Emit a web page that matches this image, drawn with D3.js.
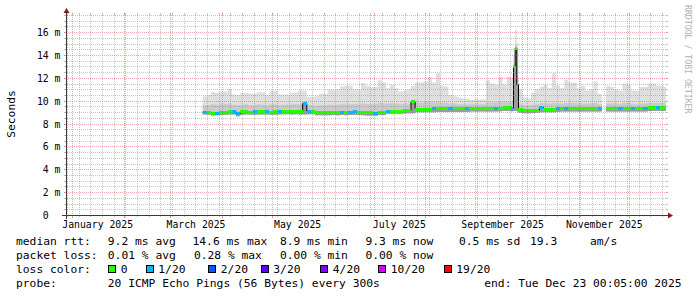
<!DOCTYPE html>
<html><head><meta charset="utf-8">
<script src="https://cdn.jsdelivr.net/npm/d3@7"></script>
<style>
html,body{margin:0;padding:0;background:#fff;}
svg{display:block;}
text{font-family:"DejaVu Sans Mono",monospace;white-space:pre;}
</style></head><body>
<svg id="c" width="697" height="297"></svg>
<script>
// ---- time frame ----
const graphStart = Date.UTC(2024, 11, 28, 0, 5);
const graphEnd   = Date.UTC(2025, 11, 23, 0, 5);
const dataStart  = Date.UTC(2025, 2, 20, 0, 0);

// day offsets (from dataStart) of each sample bin
const binDays = [0,2.5,5,7.5,10,12.5,15,17.5,20,22.5,25,27.5,30,32.5,35,37.5,40,42.5,45,47.5,
  50,52.5,55,57.5,60,62.5,65,67.5,70,72.5,75,77.5,80,82.5,85,87.5,90,92.5,95,97.5,
  100,102.5,105,107.5,110,112.5,115,117.5,120,122.5,125,127.5,130,132.5,135,137.5,140,142.5,145,147.5,
  150,152.5,155,157.5,160,162.5,165,167.5,170,172.5,175,177.5,180,182.5,185,
  186.5,187.5,188.5,
  189.5,192,194.5,197,199.5,202,204.5,207,209.5,212,214.5,217,219.5,222,224.5,227,229.5,232,234.5,237,
  239.5,242,244.5,247,249.5,252,254.5,257,259.5,262,264.5,267,269.5,272,274.5,277];

// median rtt (ms)
const median = [9.00,8.98,8.88,8.90,8.95,9.00,9.05,9.05,8.85,9.02,
  9.05,9.00,9.02,9.05,9.05,9.05,9.00,9.02,9.05,9.08,
  9.08,9.05,9.08,9.05,9.75,9.10,9.10,8.95,8.95,8.95,
  8.97,8.97,8.95,8.97,8.95,9.00,9.03,9.00,8.98,8.94,
  8.94,8.92,9.00,9.00,9.10,9.08,9.08,9.08,9.12,9.14,
  9.90,9.25,9.26,9.26,9.26,9.28,9.28,9.30,9.30,9.30,
  9.30,9.30,9.30,9.30,9.32,9.32,9.32,9.32,9.32,9.32,
  9.33,9.36,9.38,9.38,9.36,13.0,14.6,11.4,9.20,9.12,
  9.12,9.15,9.18,9.40,9.25,9.25,9.25,9.28,9.30,9.30,
  9.32,9.32,9.32,9.32,9.32,9.32,9.32,9.32,null,9.30,
  9.30,9.30,9.30,9.30,9.30,9.30,9.30,9.30,9.32,9.38,
  9.38,9.38,9.38,9.38];

// loss class per bin (index into lossColors)
const lossIdx = [1,0,0,1,0,0,0,1,1,0,
  0,0,1,0,0,1,0,0,1,0,
  0,0,0,0,1,1,0,0,0,0,
  0,0,0,1,0,1,1,0,0,0,
  0,1,0,0,1,0,0,0,0,0,
  0,0,0,0,0,1,0,0,0,1,
  0,0,0,1,0,0,0,0,0,0,
  1,0,0,0,1,0,0,0,0,0,
  0,0,0,1,0,0,0,1,0,1,
  0,0,0,0,0,0,0,1,null,0,
  0,0,1,0,0,1,0,0,1,0,
  0,1,0,0];

// smoke: highest ping (ms)
const smokeHi = [10.4,10.5,10.75,10.7,10.8,10.8,11.0,10.55,10.5,10.7,
  10.7,10.6,10.6,10.75,10.75,10.5,10.9,10.9,10.55,10.55,
  10.55,10.7,10.75,10.9,10.9,10.35,10.35,10.4,10.6,10.6,
  11.0,10.95,11.0,11.25,11.3,11.3,11.0,11.0,11.55,11.3,
  11.2,11.2,11.8,11.6,11.1,11.4,11.1,10.8,10.9,11.0,
  11.3,11.6,11.6,11.7,12.1,11.6,12.4,11.3,11.25,10.5,
  10.4,10.3,10.2,10.2,10.1,10.1,10.1,10.1,11.8,11.5,
  11.4,12.1,11.4,12.1,12.0,14.0,16.2,15.0,11.0,10.3,
  10.2,10.7,11.0,11.2,11.4,11.1,12.4,11.3,11.1,11.85,
  11.6,11.6,11.1,11.3,10.9,11.0,11.7,10.6,null,11.3,
  11.2,11.0,10.9,11.5,11.4,10.9,10.9,11.2,11.2,11.5,
  11.5,11.3,11.3,11.2];

// smoke: upper edge of the denser inner band (ms)
const smokeMid = [9.6,9.6,9.7,9.65,9.7,9.7,9.75,9.65,9.6,9.65,
  9.7,9.6,9.6,9.7,9.65,9.6,9.7,9.7,9.6,9.65,
  9.65,9.7,9.7,9.7,9.9,9.6,9.6,9.55,9.6,9.6,
  9.65,9.65,9.65,9.7,9.7,9.7,9.7,9.7,9.75,9.7,
  9.7,9.7,9.8,9.75,9.75,9.75,9.75,9.7,9.75,9.75,
  10.1,9.85,9.85,9.9,9.9,9.85,9.9,9.85,9.85,9.75,
  9.75,9.7,9.7,9.7,9.7,9.7,9.7,9.7,9.85,9.85,
  9.85,9.9,9.9,9.9,9.9,13.2,14.9,12.0,9.7,9.6,
  9.6,9.65,9.7,9.8,9.75,9.75,9.8,9.75,9.75,9.8,
  9.8,9.8,9.75,9.75,9.75,9.75,9.8,9.7,null,9.75,
  9.75,9.75,9.7,9.8,9.8,9.7,9.7,9.75,9.75,9.8,
  9.8,9.8,9.8,9.8];

// smoke: lowest ping (ms)
const smokeLo = [8.80,8.78,8.70,8.72,8.75,8.78,8.80,8.80,8.65,8.78,
  8.80,8.78,8.78,8.80,8.80,8.80,8.78,8.78,8.80,8.82,
  8.82,8.80,8.82,8.80,8.80,8.82,8.82,8.72,8.72,8.72,
  8.72,8.75,8.72,8.75,8.72,8.75,8.78,8.75,8.72,8.70,
  8.70,8.68,8.75,8.75,8.85,8.85,8.85,8.85,8.88,8.90,
  8.90,8.98,9.00,9.00,9.00,9.00,9.02,9.02,9.02,9.02,
  9.02,9.02,9.02,9.02,9.05,9.05,9.05,9.05,9.05,9.05,
  9.05,9.08,9.10,9.10,9.08,9.10,9.10,9.05,8.95,8.90,
  8.90,8.92,8.95,9.00,9.00,9.00,9.00,9.02,9.05,9.05,
  9.05,9.05,9.05,9.05,9.05,9.05,9.05,9.05,null,9.05,
  9.05,9.05,9.05,9.05,9.05,9.05,9.05,9.05,9.05,9.10,
  9.10,9.10,9.10,9.10];

// axis ticks / legend
const yMax = 17.5;
const yTickValues = [0,2,4,6,8,10,12,14,16];
const yTickLabels = ["0  ","2 m","4 m","6 m","8 m","10 m","12 m","14 m","16 m"];
const xLabelMonths = [Date.UTC(2025,0,1),Date.UTC(2025,2,1),Date.UTC(2025,4,1),Date.UTC(2025,6,1),Date.UTC(2025,8,1),Date.UTC(2025,10,1)];
const xLabelTexts = ["January 2025","March 2025","May 2025","July 2025","September 2025","November 2025"];
const lossColors = ["#26ff00","#00b8ff","#0059ff","#5e00ff","#7e00ff","#dd00ff","#ff0000"];
const lossLabels = ["0","1/20","2/20","3/20","4/20","10/20","19/20"];
const lossBoxX = [108,145.5,208,260.5,320,378,443.5];
const statRtt = [["median rtt:",16],["9.2 ms avg",107.8],["14.6 ms max",192.5],["8.9 ms min",279.9],["9.3 ms now",365.4],["0.5 ms sd",459],["19.3",530],["am/s",590]];
const statLoss = [["packet loss:",16],["0.01 % avg",107.8],["0.28 % max",193.9],["0.00 % min",279.9],["0.00 % now",365.4]];
const probeText = [["probe:",16],["20 ICMP Echo Pings (56 Bytes) every 300s",107.8]];
const endText = "end: Tue Dec 23 00:05:00 2025";

// ---- drawing ----
const svg = d3.select("#c");
const X0 = 66, X1 = 666, Y0 = 215, Y1 = 15;
const x = d3.scaleUtc().domain([graphStart, graphEnd]).range([X0, X1]);
const y = d3.scaleLinear().domain([0, yMax]).range([Y0, Y1]);
const DAY = 864e5;

const bins = binDays.map((d, i) => ({
  t0: dataStart + d * DAY,
  t1: i < binDays.length - 1 ? dataStart + binDays[i + 1] * DAY : graphEnd,
  med: median[i], loss: lossIdx[i], hi: smokeHi[i], mid: smokeMid[i], lo: smokeLo[i]
}));

function stepPts(fn) {
  const pts = [];
  bins.forEach(b => {
    if (b.med == null) { pts.push(null); return; }
    const v = fn(b);
    pts.push({ t: b.t0, ...v }, { t: Math.min(b.t1, graphEnd), ...v });
  });
  return pts;
}

const gData = svg.append("g");
function smokeArea(lowKey, highKey, color) {
  const pts = stepPts(b => ({ a: b[lowKey], b: b[highKey] }));
  const area = d3.area().defined(p => p !== null)
    .x(p => x(p.t)).y0(p => y(p.a)).y1(p => y(p.b));
  gData.append("path").attr("d", area(pts)).attr("fill", color);
}
smokeArea("lo", "hi", "#dfdfdf");
smokeArea("lo", "mid", "#cacaca");
smokeArea("lo", "med", "#9c9c9c");

// median thin line
const medPts = stepPts(b => ({ v: b.med }));
const line = d3.line().defined(p => p !== null).x(p => x(p.t)).y(p => y(p.v));
gData.append("path").attr("d", line(medPts)).attr("fill", "none")
  .attr("stroke", "#000").attr("stroke-width", 1);

// loss-coloured median band
gData.selectAll("rect.med").data(bins.filter(b => b.med != null)).join("rect")
  .attr("class", "med")
  .attr("x", b => x(b.t0))
  .attr("width", b => x(Math.min(b.t1, graphEnd)) - x(b.t0))
  .attr("y", b => y(b.med) - 1.5)
  .attr("height", 3)
  .attr("fill", b => lossColors[b.loss])
  .attr("shape-rendering", "crispEdges");

// ---- grid (on top, translucent) ----
const gGrid = svg.append("g").attr("shape-rendering", "crispEdges");
const minorCol = "rgba(140,140,140,0.5)";
const majorCol = "rgba(222,80,80,0.5)";
const ry = v => Math.round(y(v)) + 0.5;
const rx = t => Math.floor(x(t)) + 0.5;

function hline(x1, x2, yy, col, dash) {
  const l = gGrid.append("line").attr("x1", x1).attr("x2", x2).attr("y1", yy).attr("y2", yy)
    .attr("stroke", col).attr("stroke-width", 1);
  if (dash) l.attr("stroke-dasharray", "1,1");
}
function vline(xx, y1, y2, col, dash) {
  const l = gGrid.append("line").attr("x1", xx).attr("x2", xx).attr("y1", y1).attr("y2", y2)
    .attr("stroke", col).attr("stroke-width", 1);
  if (dash) l.attr("stroke-dasharray", "1,1");
}

// horizontal minor grid every 0.5
d3.range(1, 36).map(k => k * 0.5).forEach(v => {
  if (v % 2 === 0) return;
  const yy = ry(v);
  hline(X0 - 2, X0, yy, minorCol, false);
  hline(X1, X1 + 2, yy, minorCol, false);
  hline(X0 - 1, X1 + 1, yy, minorCol, true);
});
yTickValues.filter(v => v > 0).forEach(v => {
  const yy = ry(v);
  hline(X0 - 2, X0, yy, majorCol, false);
  hline(X1, X1 + 2, yy, majorCol, false);
  hline(X0 - 2, X1 + 2, yy, majorCol, true);
});
// vertical grid: weeks (minor), months (major)
const months = d3.utcMonth.range(graphStart, graphEnd);
const monthSet = new Set(months.map(d => +d));
d3.utcSunday.range(graphStart, graphEnd).forEach(d => {
  if (monthSet.has(+d)) return;
  const xx = rx(d);
  vline(xx, Y1 - 2, Y1, minorCol, false);
  vline(xx, Y0, Y0 + 2, minorCol, false);
  vline(xx, Y0 + 1, Y1 - 1, minorCol, true);
});
months.forEach(d => {
  const xx = rx(d);
  vline(xx, Y1 - 2, Y1, majorCol, false);
  vline(xx, Y0, Y0 + 3, majorCol, false);
  vline(xx, Y0 + 3, Y1 - 2, majorCol, true);
});

// ---- axes ----
const axisCol = "#3a3a3a", arrowCol = "#7f1f1f";
gGrid.append("line").attr("x1", X0 - 4).attr("x2", X1 + 4).attr("y1", Y0 + 0.5).attr("y2", Y0 + 0.5)
  .attr("stroke", axisCol).attr("stroke-width", 1);
gGrid.append("line").attr("x1", X0 + 0.5).attr("x2", X0 + 0.5).attr("y1", Y0 + 4).attr("y2", Y1 - 4)
  .attr("stroke", axisCol).attr("stroke-width", 1);
svg.append("path").attr("d", `M${X1 + 2},${Y0 + 0.5 - 3}L${X1 + 2},${Y0 + 0.5 + 3}L${X1 + 7},${Y0 + 0.5}Z`).attr("fill", arrowCol);
svg.append("path").attr("d", `M${X0 + 0.5 - 3},${Y1 - 2}L${X0 + 0.5 + 3},${Y1 - 2}L${X0 + 0.5},${Y1 - 7}Z`).attr("fill", arrowCol);

// ---- labels ----
const axisFont = 9.8, legFont = 11.3;
svg.selectAll("text.yl").data(yTickValues).join("text").attr("class", "yl")
  .attr("x", 60.5).attr("y", v => ry(v) + 3.6)
  .attr("text-anchor", "end").attr("font-size", axisFont).attr("fill", "#000")
  .text((v, i) => yTickLabels[i]);

svg.selectAll("text.xl").data(xLabelMonths).join("text").attr("class", "xl")
  .attr("x", d => x(d3.utcDay.offset(new Date(d), 15)))
  .attr("y", 228.3)
  .attr("text-anchor", "middle").attr("font-size", axisFont).attr("fill", "#000")
  .text((d, i) => xLabelTexts[i]);

svg.append("text").attr("transform", "translate(14.8,114) rotate(-90)")
  .attr("text-anchor", "middle").attr("font-size", legFont).attr("fill", "#000").text("Seconds");

svg.append("text").attr("transform", "translate(684.5,5) rotate(90)")
  .attr("font-size", 8.2).attr("fill", "#b0b0b0").text("RRDTOOL / TOBI OETIKER");

function legendRow(items, base) {
  items.forEach(([t, xx]) => svg.append("text").attr("x", xx).attr("y", base)
    .attr("font-size", legFont).attr("fill", "#000").text(t));
}
legendRow(statRtt, 245);
legendRow(statLoss, 259);
legendRow([["loss color:", 16]], 273);
lossColors.forEach((c, i) => {
  svg.append("rect").attr("x", lossBoxX[i] + 0.5).attr("y", 265.5).attr("width", 7).attr("height", 7)
    .attr("fill", c).attr("stroke", "#000").attr("stroke-width", 1).attr("shape-rendering", "crispEdges");
  svg.append("text").attr("x", lossBoxX[i] + 12.8).attr("y", 273)
    .attr("font-size", legFont).attr("fill", "#000").text(lossLabels[i]);
});
legendRow(probeText, 287);
svg.append("text").attr("x", 681.5).attr("y", 287).attr("text-anchor", "end")
  .attr("font-size", legFont).attr("fill", "#000").text(endText);
</script>
</body></html>
